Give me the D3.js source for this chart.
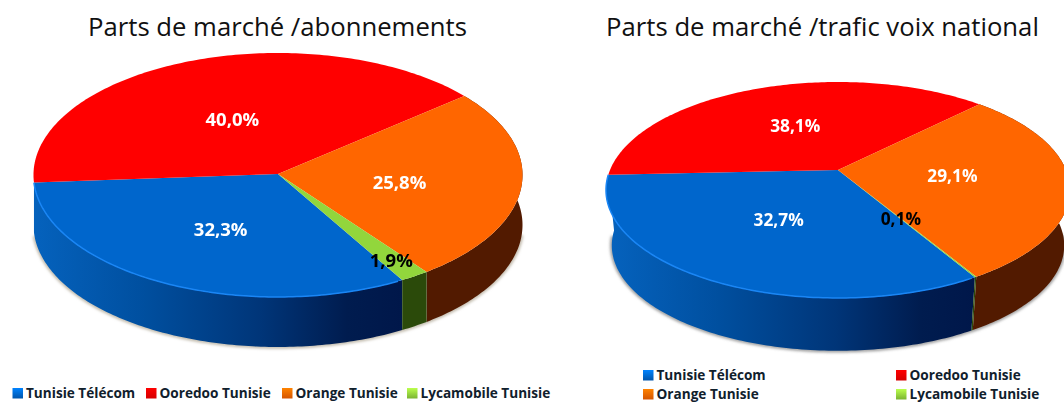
<!DOCTYPE html>
<html>
<head>
<meta charset="utf-8">
<script src="https://cdn.jsdelivr.net/npm/d3@7"></script>
<style>
  html, body { margin: 0; padding: 0; background: #fff; overflow: hidden; }
  svg { display: block; }
  text { font-family: "Open Sans", sans-serif; }
</style>
</head>
<body>
<svg width="1064" height="403"></svg>
<script>
const categories = ["Tunisie Télécom", "Ooredoo Tunisie", "Orange Tunisie", "Lycamobile Tunisie"];
const abonnements = [32.3, 40.0, 25.8, 1.9];
const traficVoix = [32.7, 38.1, 29.1, 0.1];
const topColors = ["#0066cc", "#ff0000", "#ff6600", "#92d63c"];
const labelColors = ["#fff", "#fff", "#fff", "#000"];

const svg = d3.select("svg");
const defs = svg.append("defs");

const color = d3.scaleOrdinal().domain(categories).range(topColors);

defs.append("filter").attr("id", "soft").append("feGaussianBlur").attr("stdDeviation", 1.4);
defs.append("filter").attr("id", "txt").append("feGaussianBlur").attr("stdDeviation", 0.25);

// one circle seen in perspective: k moves the centre away from the middle of the ellipse
function projector(o) {
  return (angle, r) => {
    const u = r * Math.sin(angle);
    const v = r * Math.cos(angle);
    const w = 1 + o.k * v;
    return [o.cx + o.rx * u / w, o.cy - o.ry * v / w];
  };
}

function drawPie(o) {
  const g = svg.append("g");
  const project = projector(o);
  const line = d3.line();
  const arcs = d3.pie().sort(null)
    .startAngle(o.start)
    .endAngle(o.start + 2 * Math.PI)(o.values);

  const rim = (a0, a1) => {
    const n = Math.max(2, Math.ceil((a1 - a0) * 60));
    return d3.range(n + 1).map(i => project(a0 + (a1 - a0) * i / n, 1));
  };
  const lower = p => [
    o.cx + (p[0] - o.cx) * o.wallScale,
    o.cy + (p[1] - o.cy) * o.wallScale + o.depth
  ];

  // wall shadow
  const front = rim(o.start - 0.95, o.start + 2.0);
  g.append("path")
    .attr("d", line(front.map(lower)))
    .attr("fill", "none")
    .attr("stroke", o.shadow)
    .attr("stroke-width", 3)
    .attr("filter", "url(#soft)");

  // walls
  const gradId = o.id + "-blue";
  const grad = defs.append("linearGradient").attr("id", gradId)
    .attr("gradientUnits", "userSpaceOnUse")
    .attr("x1", o.cx - o.rx).attr("x2", project(arcs[0].startAngle, 1)[0])
    .attr("y1", 0).attr("y2", 0);
  grad.append("stop").attr("offset", 0).attr("stop-color", "#0562bd");
  grad.append("stop").attr("offset", 0.3).attr("stop-color", "#004f9f");
  grad.append("stop").attr("offset", 0.62).attr("stop-color", "#003578");
  grad.append("stop").attr("offset", 0.85).attr("stop-color", "#001c4f");
  grad.append("stop").attr("offset", 1).attr("stop-color", "#00174a");

  // the red slice sits at the back, its wall never shows
  const wallFill = ["url(#" + gradId + ")", null, "#521a00", "#2b4a0a"];
  arcs.forEach((d, i) => {
    if (!wallFill[i]) return;
    const pts = rim(d.startAngle, d.endAngle);
    g.append("path")
      .attr("d", line(pts.concat(pts.map(lower).reverse())) + "Z")
      .attr("fill", wallFill[i]);
  });

  // top face
  arcs.forEach((d, i) => {
    const pts = rim(d.startAngle, d.endAngle);
    g.append("path")
      .attr("d", line([project(0, 0)].concat(pts)) + "Z")
      .attr("fill", color(categories[i]));
  });

  // light edge along the blue slice
  g.append("path")
    .attr("d", line(rim(arcs[0].startAngle + 0.02, arcs[0].endAngle)))
    .attr("fill", "none")
    .attr("stroke", "#1a86f5")
    .attr("stroke-width", 1.5);

  // value labels
  arcs.forEach((d, i) => {
    const mid = (d.startAngle + d.endAngle) / 2;
    const p = project(mid, i === 3 ? o.smallLabelR : 0.5);
    g.append("text")
      .attr("x", p[0]).attr("y", p[1] + o.labelShift)
      .attr("dy", "0.35em")
      .attr("text-anchor", "middle")
      .attr("font-weight", 700)
      .attr("font-size", o.labelSize)
      .attr("fill", labelColors[i])
      .attr("filter", "url(#txt)")
      .text(o.values[i].toFixed(1).replace(".", ",") + "%");
  });

  // title
  svg.append("text")
    .attr("x", o.titleX).attr("y", 36)
    .attr("text-anchor", "middle")
    .attr("font-size", 25.7)
    .attr("fill", "#111")
    .text(o.title);
}

drawPie({
  id: "abo", title: "Parts de marché /abonnements", titleX: 277.5,
  values: abonnements,
  cx: 278, cy: 174, rx: 244.5, ry: 122, k: 0.008,
  start: 149.7 * Math.PI / 180,
  depth: 50, wallScale: 1, smallLabelR: 0.83, labelSize: 18.5, labelShift: 1.5, shadow: "#b5ad9c"
});

drawPie({
  id: "voix", title: "Parts de marché /trafic voix national", titleX: 822.5,
  values: traficVoix,
  cx: 838, cy: 170, rx: 228, ry: 104.3, k: 0.185,
  start: 149.7 * Math.PI / 180,
  depth: 56, wallScale: 0.975, smallLabelR: 0.5, labelSize: 17.3, labelShift: 0, shadow: "#8c8c8c"
});

function legendItem(name, x, y) {
  const c = color(name);
  const id = "lg-" + categories.indexOf(name) + "-" + Math.round(x);
  const grad = defs.append("linearGradient").attr("id", id)
    .attr("x1", 0).attr("y1", 0).attr("x2", 0).attr("y2", 1);
  grad.append("stop").attr("offset", 0).attr("stop-color", d3.color(c).brighter(0.7));
  grad.append("stop").attr("offset", 1).attr("stop-color", d3.color(c).darker(0.5));
  svg.append("rect")
    .attr("x", x).attr("y", y - 10)
    .attr("width", 10.5).attr("height", 10.5)
    .attr("fill", "url(#" + id + ")");
  svg.append("text")
    .attr("x", x + 13.5).attr("y", y)
    .attr("font-size", 13.6)
    .attr("font-weight", 700)
    .attr("fill", "#10202c")
    .text(name);
}

// first legend, one row
[12.5, 146, 282, 407].forEach((x, i) => legendItem(categories[i], x, 398));
// second legend, two rows
legendItem(categories[0], 643, 380);
legendItem(categories[1], 896, 380);
legendItem(categories[2], 643, 399);
legendItem(categories[3], 896, 399);
</script>
</body>
</html>
